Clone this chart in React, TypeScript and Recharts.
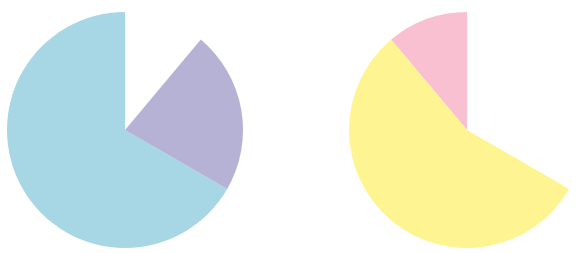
import React from 'react';
import { PieChart, Pie, Cell } from 'recharts';

// both pies share a common total; the unused part of the circle stays empty
const TOTAL = 9;

const leftNames = ['A', 'B'];
const leftValues = [6, 2];
const leftColors = ['#a7d6e4', '#b5b2d6'];

const rightNames = ['C', 'D'];
const rightValues = [1, 5];
const rightColors = ['#f8c0d0', '#fef491'];

const leftData = leftNames.map((name, i) => ({ name, value: leftValues[i] }));
const rightData = rightNames.map((name, i) => ({ name, value: rightValues[i] }));

const sum = (arr: number[]) => arr.reduce((a, b) => a + b, 0);
const START = 90;
const endAngleFor = (values: number[]) => START + (360 * sum(values)) / TOTAL;

export default function App() {
  return (
    <div style={{ position: 'absolute', top: 0, left: 0, width: 585, height: 253, overflow: 'hidden' }}>
      <PieChart width={585} height={253} margin={{ top: 0, right: 0, bottom: 0, left: 0 }}>
        <Pie
          data={leftData}
          dataKey="value"
          cx={125}
          cy={130}
          outerRadius={118}
          startAngle={START}
          endAngle={endAngleFor(leftValues)}
          stroke="none"
          isAnimationActive={false}>
          {leftData.map((d, i) => (
            <Cell key={d.name} fill={leftColors[i]} />
          ))}
        </Pie>
        <Pie
          data={rightData}
          dataKey="value"
          cx={467}
          cy={130}
          outerRadius={118}
          startAngle={START}
          endAngle={endAngleFor(rightValues)}
          stroke="none"
          isAnimationActive={false}>
          {rightData.map((d, i) => (
            <Cell key={d.name} fill={rightColors[i]} />
          ))}
        </Pie>
      </PieChart>
    </div>
  );
}
